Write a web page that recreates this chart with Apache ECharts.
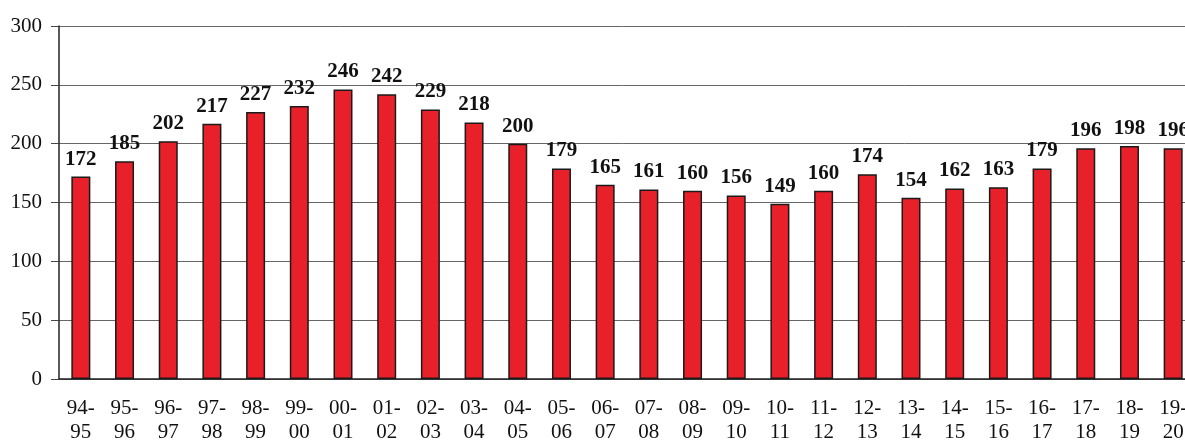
<!DOCTYPE html>
<html>
<head>
<meta charset="utf-8">
<script src="https://cdn.jsdelivr.net/npm/echarts@6/dist/echarts.min.js"></script>
<style>
  html, body { margin: 0; padding: 0; background: #fff; }
  #chart { width: 1185px; height: 441px; }
</style>
</head>
<body>
<div id="chart"></div>
<script>
// 学年
var years = ["94-\n95", "95-\n96", "96-\n97", "97-\n98", "98-\n99", "99-\n00", "00-\n01", "01-\n02", "02-\n03",
    "03-\n04", "04-\n05", "05-\n06", "06-\n07", "07-\n08", "08-\n09", "09-\n10", "10-\n11", "11-\n12", "12-\n13",
    "13-\n14", "14-\n15", "15-\n16", "16-\n17", "17-\n18", "18-\n19", "19-\n20"];
var values = [172, 185, 202, 217, 227, 232, 246, 242, 229, 218, 200, 179, 165, 161, 160, 156, 149, 160, 174,
    154, 162, 163, 179, 196, 198, 196];
var yTicks = [0, 50, 100, 150, 200, 250, 300];

var serif = "'Liberation Serif', 'DejaVu Serif', serif";
var myChart = echarts.init(document.getElementById("chart"));
var option = {
    animation: false,
    grid: {
        left: 59,
        width: 1136,
        top: 26,
        height: 353,
        outerBoundsMode: "none"
    },
    xAxis: {
        type: "category",
        data: years,
        axisLine: { lineStyle: { color: "#222", width: 1.5 } },
        axisTick: { alignWithLabel: false, length: 5, lineStyle: { color: "#444" } },
        axisLabel: {
            color: "#111",
            fontFamily: serif,
            fontSize: 21,
            lineHeight: 24,
            margin: 17,
            interval: 0
        }
    },
    yAxis: {
        type: "value",
        min: yTicks[0],
        max: yTicks[yTicks.length - 1],
        interval: 50,
        axisLine: { show: true, lineStyle: { color: "#222", width: 1.5 } },
        axisTick: { show: true, length: 8, lineStyle: { color: "#444" } },
        axisLabel: {
            color: "#111",
            fontFamily: serif,
            fontSize: 21,
            margin: 17
        },
        splitLine: { lineStyle: { color: "#666", width: 1 } }
    },
    series: [{
        type: "bar",
        data: values,
        barWidth: 19,
        itemStyle: {
            color: "#e8202a",
            borderColor: "#1a1a1a",
            borderWidth: 1.5
        },
        label: {
            show: true,
            position: "top",
            distance: 7,
            color: "#111",
            fontFamily: serif,
            fontWeight: "bold",
            fontSize: 21
        }
    }]
};
myChart.setOption(option);
</script>
</body>
</html>
